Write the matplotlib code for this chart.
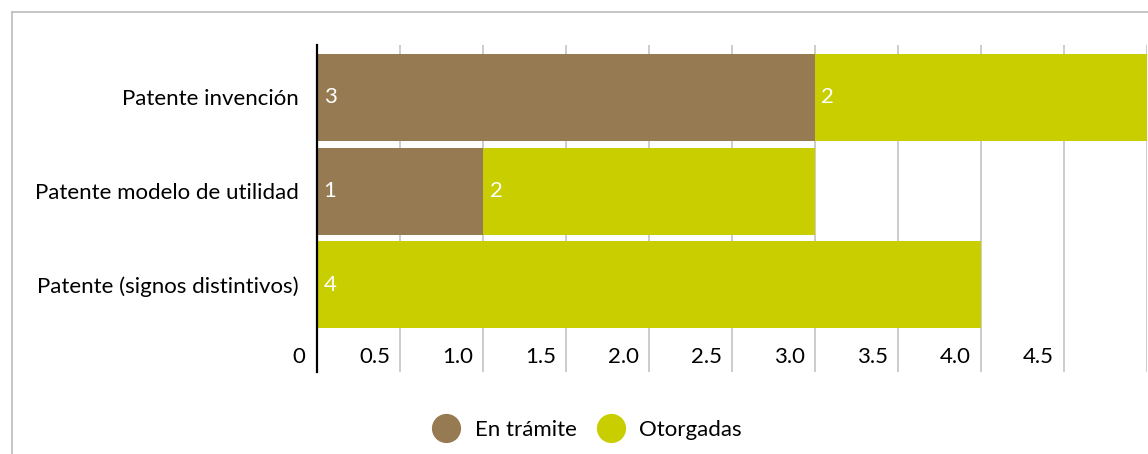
import matplotlib.pyplot as plt
from matplotlib.lines import Line2D

plt.rcParams['font.family'] = ['Lato', 'DejaVu Sans']

categorias = ['Patente invención', 'Patente modelo de utilidad', 'Patente (signos distintivos)']
en_tramite = [3, 1, 0]
otorgadas = [2, 2, 4]
series = ['En trámite', 'Otorgadas']
ticks = [0.5, 1.0, 1.5, 2.0, 2.5, 3.0, 3.5, 4.0, 4.5]
tick_labels = ['0.5', '1.0', '1.5', '2.0', '2.5', '3.0', '3.5', '4.0', '4.5']

c_tram = '#957a52'
c_otor = '#c8ce00'
fs = 16

fig = plt.figure(figsize=(11.48, 4.54), dpi=100)
ax = fig.add_axes([317 / 1148, 1 - 372 / 454, 830 / 1148, 327 / 454])

y = list(range(len(categorias)))
ax.barh(y, en_tramite, height=0.93, color=c_tram, label=series[0], zorder=2)
ax.barh(y, otorgadas, left=en_tramite, height=0.93, color=c_otor, label=series[1], zorder=2)

# etiquetas de valor
for i in y:
    if en_tramite[i] > 0:
        ax.text(0.04, i, str(en_tramite[i]), color='white', fontsize=fs, va='center', ha='left', zorder=3)
    if otorgadas[i] > 0:
        ax.text(en_tramite[i] + 0.04, i, str(otorgadas[i]), color='white', fontsize=fs, va='center', ha='left', zorder=3)

ax.set_xlim(0, 5.003)
ax.set_ylim(2.93, -0.56)
ax.set_xticks([])
ax.set_yticks(y)
ax.set_yticklabels(categorias, fontsize=fs)
ax.tick_params(axis='y', length=0, pad=13)

for t in ticks + [5.0]:
    ax.axvline(t, color='#c4c4c4', lw=1.2, zorder=1)

trans = ax.get_xaxis_transform()
ax.text(-0.07, 0.046, '0', transform=trans, ha='right', va='center', fontsize=fs)
for t, lab in zip(ticks, tick_labels):
    ax.text(t - 0.06, 0.046, lab, transform=trans, ha='right', va='center', fontsize=fs)

for s in ['top', 'right', 'bottom']:
    ax.spines[s].set_visible(False)
ax.spines['left'].set_linewidth(1.6)
ax.spines['left'].set_color('black')

# marco
fig.add_artist(Line2D([12 / 1148, 1], [1 - 12 / 454, 1 - 12 / 454], color='#c0c0c0', lw=1.3))
fig.add_artist(Line2D([12 / 1148, 12 / 1148], [0, 1 - 12 / 454], color='#c0c0c0', lw=1.3))

handles = [Line2D([], [], marker='o', ls='', markersize=20, color=c_tram),
           Line2D([], [], marker='o', ls='', markersize=20, color=c_otor)]
fig.legend(handles, series, loc='center', bbox_to_anchor=(0.508, 1 - 430 / 454), ncol=2,
           frameon=False, fontsize=fs, handletextpad=0.3, columnspacing=0.5)

fig.savefig('out.png', dpi=100)
